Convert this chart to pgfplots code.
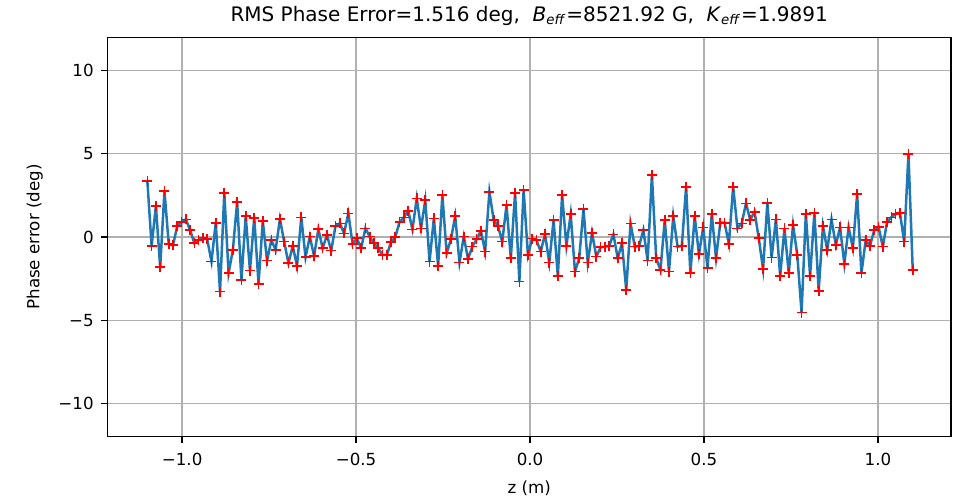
\documentclass[border=0pt]{standalone}
\usepackage{fontspec}
\setmainfont{DejaVu Sans}
\usepackage{pgfplots}
\pgfplotsset{compat=1.18}
\usepackage{pgfplotstable}
\definecolor{mplblue}{HTML}{1F77B4}
\definecolor{gridgray}{HTML}{B0B0B0}

% phase error along the undulator
\pgfplotstableread{
z err
-1.1000 3.38
-1.0877 -0.54
-1.0754 1.86
-1.0631 -1.82
-1.0508 2.76
-1.0385 -0.42
-1.0263 -0.50
-1.0140 0.66
-1.0017 0.92
-0.9894 1.06
-0.9771 0.42
-0.9648 -0.38
-0.9525 -0.18
-0.9402 -0.04
-0.9279 -0.14
-0.9156 -1.48
-0.9034 0.86
-0.8911 -3.28
-0.8788 2.66
-0.8665 -2.18
-0.8542 -0.78
-0.8419 2.12
-0.8296 -2.58
-0.8173 1.26
-0.8050 -2.02
-0.7927 1.16
-0.7804 -2.82
-0.7682 0.96
-0.7559 -1.42
-0.7436 -0.18
-0.7313 -0.78
-0.7190 1.08
-0.7067 -0.28
-0.6944 -1.58
-0.6821 -0.54
-0.6698 -1.74
-0.6575 1.18
-0.6453 -1.22
-0.6330 0.02
-0.6207 -1.14
-0.6084 0.48
-0.5961 -0.68
-0.5838 0.12
-0.5715 -0.82
-0.5592 0.66
-0.5469 0.82
-0.5346 0.22
-0.5223 1.42
-0.5101 -0.42
-0.4978 -0.08
-0.4855 -0.68
-0.4732 0.52
-0.4609 0.02
-0.4486 -0.38
-0.4363 -0.68
-0.4240 -1.08
-0.4117 -1.08
-0.3994 -0.30
-0.3872 0.00
-0.3749 0.92
-0.3626 1.18
-0.3503 1.58
-0.3380 0.46
-0.3257 2.32
-0.3134 0.52
-0.3011 2.22
-0.2888 -1.48
-0.2765 1.12
-0.2642 -1.74
-0.2520 2.52
-0.2397 -0.98
-0.2274 -0.14
-0.2151 1.26
-0.2028 -1.54
-0.1905 0.02
-0.1782 -1.32
-0.1659 -0.58
-0.1536 -0.14
-0.1413 0.38
-0.1291 -0.88
-0.1168 2.72
-0.1045 1.02
-0.0922 0.66
-0.0799 -0.28
-0.0676 1.92
-0.0553 -1.28
-0.0430 2.66
-0.0307 -2.68
-0.0184 2.82
-0.0061 -1.08
0.0061 -0.10
0.0184 -0.18
0.0307 -0.88
0.0430 0.18
0.0553 -1.54
0.0676 1.02
0.0799 -2.34
0.0922 2.52
0.1045 -0.54
0.1168 1.38
0.1291 -2.08
0.1413 -1.28
0.1536 1.68
0.1659 -1.54
0.1782 0.26
0.1905 -1.18
0.2028 -0.62
0.2151 -0.58
0.2274 -0.54
0.2397 0.16
0.2520 -1.28
0.2642 -0.38
0.2765 -3.18
0.2888 0.82
0.3011 -0.58
0.3134 -0.54
0.3257 0.42
0.3380 -1.42
0.3503 3.72
0.3626 -1.28
0.3749 -1.98
0.3872 1.02
0.3994 -2.08
0.4117 1.26
0.4240 -0.58
0.4363 -0.54
0.4486 3.02
0.4609 -2.18
0.4732 1.26
0.4855 -1.04
0.4978 0.58
0.5101 -1.88
0.5223 1.38
0.5346 -1.28
0.5469 0.86
0.5592 0.86
0.5715 -0.42
0.5838 3.02
0.5961 0.52
0.6084 0.82
0.6207 2.02
0.6330 1.02
0.6453 1.52
0.6575 -0.08
0.6698 -1.94
0.6821 2.06
0.6944 -1.24
0.7067 1.06
0.7190 -2.34
0.7313 0.52
0.7436 -2.18
0.7559 0.72
0.7682 -1.08
0.7804 -4.54
0.7927 1.38
0.8050 -2.34
0.8173 1.46
0.8296 -3.24
0.8419 0.66
0.8542 -0.78
0.8665 1.06
0.8788 -0.48
0.8911 0.58
0.9034 -1.62
0.9156 0.58
0.9279 -0.68
0.9402 2.58
0.9525 -2.18
0.9648 -0.18
0.9771 -0.54
0.9894 0.42
1.0017 0.62
1.0140 -0.58
1.0263 0.92
1.0385 1.18
1.0508 1.38
1.0631 1.46
1.0754 -0.28
1.0877 4.98
1.1000 -1.98
}\phase

\begin{document}
\begin{tikzpicture}
\begin{axis}[
  scale only axis,
  width=506.2pt, height=239.6pt,
  xmin=-1.215, xmax=1.21, ymin=-12, ymax=12,
  xtick={-1,-0.5,0,0.5,1},
  xticklabels={−1.0,−0.5,0.0,0.5,1.0},
  ytick={-10,-5,0,5,10},
  yticklabels={−10,−5,0,5,10},
  grid=major,
  grid style={gridgray, line width=0.8pt},
  axis line style={black, line width=0.8pt},
  tick align=outside, xtick pos=bottom, ytick pos=left,
  major tick length=3.5pt,
  tick style={black, line width=0.8pt},
  tick label style={font=\fontsize{10}{12}\selectfont},
  xticklabel style={yshift=-2.9pt},
  yticklabel style={xshift=-1.2pt},
  label style={font=\fontsize{10}{12}\selectfont},
  xlabel={z (m)},
  xlabel style={at={(axis description cs:0.5,0)}, anchor=base, yshift=-34pt},
  ylabel={Phase error (deg)},
  ylabel style={at={([xshift=-40.8pt]axis description cs:0,0.5)}, anchor=base},
  title={RMS Phase Error=1.516 deg,\ \ \textit{B}\textsubscript{\textit{eff}}=8521.92 G,\ \ \textit{K}\textsubscript{\textit{eff}}=1.9891},
  title style={font=\fontsize{12}{14}\selectfont, at={(axis description cs:0.5,1)}, anchor=base, yshift=3.4pt},
]
\addplot[mplblue, line width=1.5pt, no markers] table[x=z, y=err] {\phase};
\addplot[red, only marks, mark=+, mark size=3pt, mark options={line width=1pt}] table[x=z, y=err] {\phase};
\end{axis}
\pgfresetboundingbox
\useasboundingbox (-64.4pt,-37.4pt) rectangle (507.4pt,262pt);
\end{tikzpicture}
\end{document}
